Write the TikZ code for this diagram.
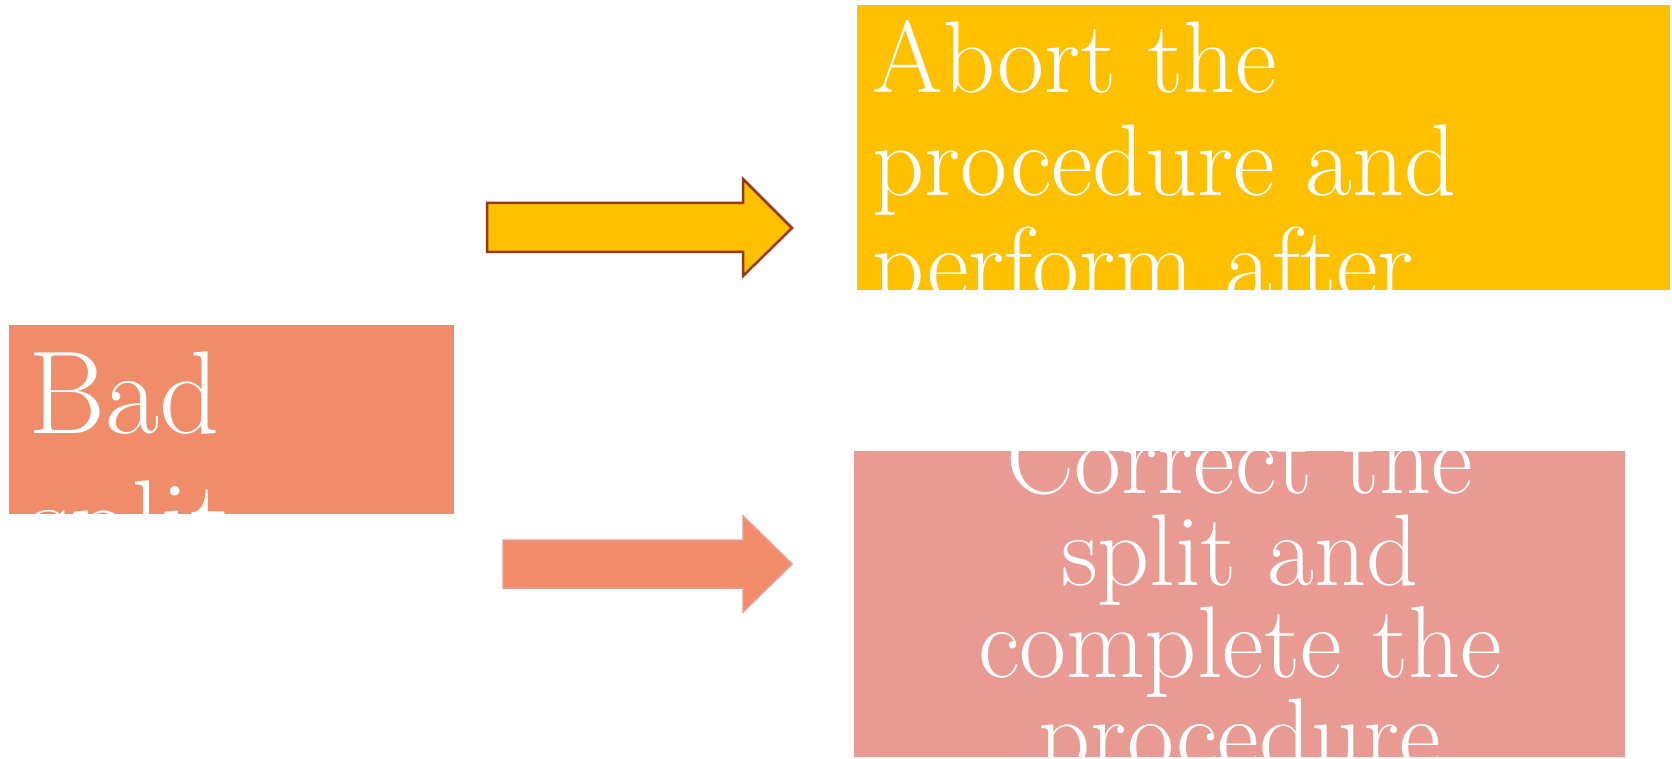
\documentclass[tikz,border=0pt]{standalone}
\usepackage{fontspec}
\usepackage{tikz}

\definecolor{abortgold}{HTML}{FFC000}
\definecolor{abortedge}{HTML}{973A14}
\definecolor{badsalmon}{HTML}{F08C69}
\definecolor{fixpink}{HTML}{E99A93}

\begin{document}
\begin{tikzpicture}[x=0.5pt, y=-0.5pt,
            box/.style={rectangle, inner sep=0pt},
            label/.style={text=white, inner sep=0pt},
            blockarrow/.style={line join=miter}]

        \useasboundingbox (0,0) rectangle (1672,759);

        % the three boxes
        \node[box, fill=abortgold, minimum width=406.5pt, minimum height=142.5pt] (abort) at (1263.5,147.5) {};
        \node[box, fill=badsalmon, minimum width=222.5pt, minimum height=94.5pt] (bad) at (231.5,419.5) {};
        \node[box, fill=fixpink, minimum width=385.5pt, minimum height=153pt] (fix) at (1239.5,604) {};

        % texts, cut off at the box edges (base = last line)
        \begin{scope}
            \clip (abort.south west) rectangle (abort.north east);
            \node[label, anchor=base west, align=left, font=\fontsize{51pt}{51.5pt}\selectfont] (aborttext) at (872,299)
                {Abort the\\procedure and\\perform after};
        \end{scope}
        \begin{scope}
            \clip (bad.south west) rectangle (bad.north east);
            \node[label, anchor=base west, align=left, font=\fontsize{59pt}{64.5pt}\selectfont] (badtext) at (28,562)
                {Bad\\split};
        \end{scope}
        \begin{scope}
            \clip (fix.south west) rectangle (fix.north east);
            \node[label, anchor=base, align=center, font=\fontsize{51pt}{46pt}\selectfont] (fixtext) at (1240,769)
                {Correct the\\split and\\complete the\\procedure};
        \end{scope}

        % block arrows
        \draw[blockarrow, fill=abortgold, draw=abortedge, line width=1.25pt]
            (487,203) -- (743,203) -- (743,179) -- (792,228) -- (743,276) -- (743,252) -- (487,252) -- cycle;
        \draw[blockarrow, fill=badsalmon, draw=fixpink, line width=0.75pt]
            (503,540) -- (743,540) -- (743,516) -- (792,564) -- (743,612) -- (743,588) -- (503,588) -- cycle;

    \end{tikzpicture}
\end{document}
